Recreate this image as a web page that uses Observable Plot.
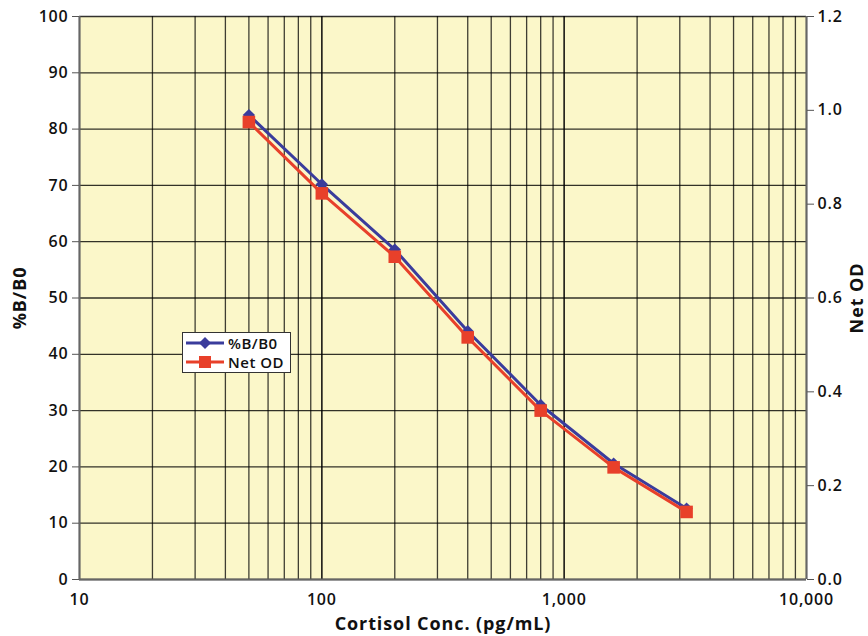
<!DOCTYPE html>
<html>
<head>
<meta charset="utf-8">
<script src="https://cdn.jsdelivr.net/npm/d3@7"></script>
<script src="https://cdn.jsdelivr.net/npm/@observablehq/plot@0.6"></script>
<style>
  html, body { margin: 0; padding: 0; background: #ffffff; }
  #wrap { position: relative; width: 868px; height: 636px; font-family: "Open Sans", sans-serif; }
  #wrap svg { font-family: "Open Sans", sans-serif; }
  g[aria-label="x-axis tick label"] text, g[aria-label="y-axis tick label"] text { letter-spacing: 0.8px; }
  g[aria-label="x-axis label"] text, g[aria-label="y-axis label"] text { font-size: 18px; font-weight: 700; letter-spacing: 0.9px; }
  #legend { position: absolute; left: 182px; top: 332px; width: 107px; height: 39px; background: #fff;
    border: 1.5px solid #333; box-sizing: content-box; font-size: 15px; font-weight: 600; color: #111; letter-spacing: 0.5px; }
  #legend .row { display: flex; align-items: center; height: 19px; padding-left: 2px; }
  #legend svg { margin-right: 3px; }
</style>
</head>
<body>
<div id="wrap"></div>
<script>
// ---- data ----
const concentrations = [50, 100, 200, 400, 800, 1600, 3200];
const pctB0 = [82.5, 70.2, 58.6, 44.1, 31.0, 20.6, 12.6];
const netOD = [0.975, 0.823, 0.688, 0.516, 0.360, 0.239, 0.144];
const xTicks = [10, 100, 1000, 10000];
const yLeftTicks = [0, 10, 20, 30, 40, 50, 60, 70, 80, 90, 100];
const yRightTicks = [0, 0.2, 0.4, 0.6, 0.8, 1.0, 1.2];
const seriesNames = ["%B/B0", "Net OD"];
const seriesColors = ["#3A3C9C", "#E8402A"];

const odMax = 1.2;
const toLeft = v => v * 100 / odMax;

const xGrid = [];
for (let p = 10; p < 10000; p *= 10) for (let k = 1; k <= 10; k++) xGrid.push(p * k);

const blueData = concentrations.map((c, i) => ({x: c, y: pctB0[i]}));
const redData = concentrations.map((c, i) => ({x: c, y: toLeft(netOD[i])}));

const diamond = {
  draw(ctx, size) {
    const s = Math.sqrt(size / 2);
    ctx.moveTo(0, -s); ctx.lineTo(s, 0); ctx.lineTo(0, s); ctx.lineTo(-s, 0); ctx.closePath();
  }
};

const chart = Plot.plot({
  width: 868, height: 636,
  marginLeft: 79, marginRight: 62, marginTop: 16, marginBottom: 57,
  style: {background: "transparent", fontSize: "16px", fontWeight: 600, color: "#111"},
  x: {type: "log", domain: [10, 10000]},
  y: {domain: [0, 100]},
  marks: [
    Plot.frame({fill: "#FBF7C9", stroke: "none"}),
    Plot.gridX(xGrid, {stroke: "#000", strokeOpacity: 0.75, strokeWidth: 1.3}),
    Plot.gridY(yLeftTicks, {stroke: "#000", strokeOpacity: 0.8, strokeWidth: 1.3}),
    Plot.ruleX([10], {stroke: "#666", strokeWidth: 2}),
    Plot.ruleX([10000], {stroke: "#666", strokeWidth: 2}),
    Plot.ruleY([0], {stroke: "#666", strokeWidth: 2}),
    Plot.axisX(xTicks, {tickFormat: d3.format(","), tickSize: 0, tickPadding: 14,
      label: "Cortisol Conc. (pg/mL)", labelAnchor: "center", labelOffset: 50, labelArrow: "none"}),
    Plot.axisY(yLeftTicks, {anchor: "left", tickSize: 7, tickPadding: 4, stroke: "#555",
      label: "%B/B0", labelAnchor: "center", labelOffset: 66, labelArrow: "none"}),
    Plot.axisY(yRightTicks.map(toLeft), {anchor: "right", tickSize: 7, tickPadding: 4, stroke: "#555",
      tickFormat: d => (d * odMax / 100).toFixed(1),
      label: "Net OD", labelAnchor: "center", labelOffset: 56, labelArrow: "none"}),
    Plot.line(blueData, {x: "x", y: "y", stroke: seriesColors[0], strokeWidth: 3}),
    Plot.dot(blueData, {x: "x", y: "y", symbol: diamond, r: 4.9, fill: seriesColors[0], stroke: "none"}),
    Plot.line(redData, {x: "x", y: "y", stroke: seriesColors[1], strokeWidth: 3}),
    Plot.dot(redData, {x: "x", y: "y", symbol: "square", r: 7.1, fill: seriesColors[1], stroke: "none"})
  ]
});

const wrap = document.getElementById("wrap");
wrap.appendChild(chart);

// legend
const legend = document.createElement("div");
legend.id = "legend";
seriesNames.forEach((name, i) => {
  const row = document.createElement("div");
  row.className = "row";
  const marker = i === 0
    ? `<path d="M20,3 L26,9 L20,15 L14,9 Z" fill="${seriesColors[i]}"/>`
    : `<rect x="14" y="3" width="12" height="12" fill="${seriesColors[i]}"/>`;
  row.innerHTML = `<svg width="40" height="18"><line x1="1" x2="39" y1="9" y2="9" stroke="${seriesColors[i]}" stroke-width="3"/>${marker}</svg><span>${name}</span>`;
  legend.appendChild(row);
});
wrap.appendChild(legend);
</script>
</body>
</html>
